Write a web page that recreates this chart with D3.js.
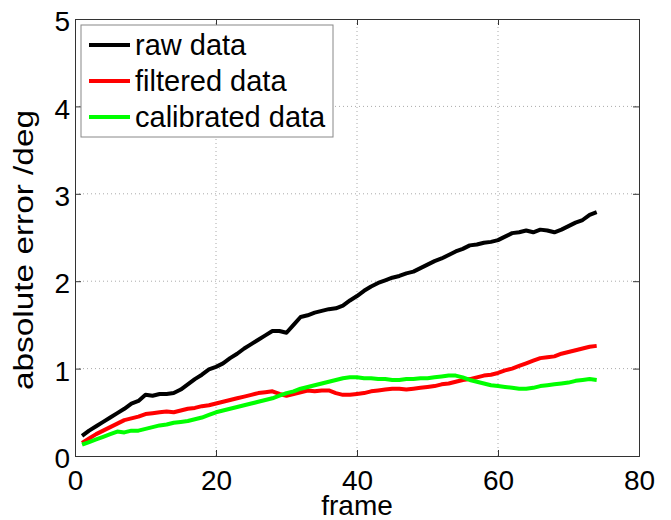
<!DOCTYPE html>
<html>
<head>
<meta charset="utf-8">
<script src="https://cdn.jsdelivr.net/npm/d3@7"></script>
<style>
  html, body { margin: 0; padding: 0; background: #fff; }
  svg { display: block; font-family: "Liberation Sans", Arial, sans-serif; }
</style>
</head>
<body>
<svg id="chart" width="671" height="520"></svg>
<script>
const rawData = [0.23,0.29,0.34,0.39,0.44,0.49,0.54,0.60,0.63,0.70,
  0.69,0.71,0.71,0.72,0.76,0.82,0.88,0.93,0.99,1.02,
  1.06,1.12,1.17,1.23,1.28,1.33,1.38,1.43,1.43,1.41,
  1.50,1.59,1.61,1.64,1.66,1.68,1.69,1.72,1.78,1.83,
  1.89,1.94,1.98,2.01,2.04,2.06,2.09,2.11,2.15,2.19,
  2.23,2.26,2.30,2.34,2.37,2.41,2.42,2.44,2.45,2.47,
  2.51,2.55,2.56,2.58,2.56,2.59,2.58,2.56,2.59,2.63,
  2.67,2.70,2.76,2.79];
const filteredData = [0.15,0.20,0.25,0.29,0.33,0.37,0.41,0.43,0.45,0.48,
  0.49,0.50,0.51,0.50,0.52,0.54,0.55,0.57,0.58,0.60,
  0.62,0.64,0.66,0.68,0.70,0.72,0.73,0.74,0.71,0.69,
  0.71,0.73,0.75,0.74,0.75,0.75,0.72,0.70,0.70,0.71,
  0.72,0.74,0.75,0.76,0.77,0.77,0.76,0.77,0.78,0.79,
  0.80,0.82,0.83,0.85,0.87,0.88,0.90,0.92,0.93,0.95,
  0.98,1.00,1.03,1.06,1.09,1.12,1.13,1.14,1.17,1.19,
  1.21,1.23,1.25,1.26];
const calibratedData = [0.13,0.16,0.19,0.22,0.25,0.28,0.27,0.29,0.29,0.31,
  0.33,0.35,0.36,0.38,0.39,0.40,0.42,0.44,0.47,0.50,
  0.52,0.54,0.56,0.58,0.60,0.62,0.64,0.66,0.69,0.72,
  0.74,0.77,0.79,0.81,0.83,0.85,0.87,0.89,0.90,0.90,
  0.89,0.89,0.88,0.88,0.87,0.87,0.88,0.88,0.89,0.89,
  0.90,0.91,0.92,0.92,0.90,0.87,0.85,0.83,0.81,0.80,
  0.79,0.78,0.77,0.77,0.78,0.80,0.81,0.82,0.83,0.84,
  0.86,0.87,0.88,0.87];
const xTicks = [0, 20, 40, 60, 80];
const yTicks = [0, 1, 2, 3, 4, 5];
const seriesNames = ["raw data", "filtered data", "calibrated data"];
const seriesColors = ["#000000", "#ff0000", "#00ff00"];
const xLabel = "frame";
const yLabel = "absolute error /deg";

const svg = d3.select("#chart");
const pL = 75, pR = 639, pT = 19, pB = 456;
const x = d3.scaleLinear().domain([0, 80]).range([pL, pR]);
const y = d3.scaleLinear().domain([0, 5]).range([pB, pT]);

// grid
const g = svg.append("g");
g.selectAll(".vgrid").data(xTicks.slice(1, -1)).enter().append("line")
  .attr("x1", d => x(d)).attr("x2", d => x(d))
  .attr("y1", pT).attr("y2", pB)
  .attr("stroke", "#aaa").attr("stroke-width", 1).attr("stroke-dasharray", "1,3");
g.selectAll(".hgrid").data(yTicks.slice(1, -1)).enter().append("line")
  .attr("x1", pL).attr("x2", pR)
  .attr("y1", d => y(d)).attr("y2", d => y(d))
  .attr("stroke", "#aaa").attr("stroke-width", 1).attr("stroke-dasharray", "1,3");

// axes (inner ticks, box)
const axB = d3.axisBottom(x).tickValues(xTicks).tickSize(-6).tickPadding(14).tickFormat(d3.format("d"));
const axL = d3.axisLeft(y).tickValues(yTicks).tickSize(-6).tickPadding(5).tickFormat(d3.format("d"));
const axT = d3.axisTop(x).tickValues(xTicks).tickSize(-6).tickFormat("");
const axR = d3.axisRight(y).tickValues(yTicks).tickSize(-6).tickFormat("");

const gb = svg.append("g").attr("transform", `translate(0,${pB})`).call(axB);
const gl = svg.append("g").attr("transform", `translate(${pL},0)`).call(axL);
svg.append("g").attr("transform", `translate(0,${pT})`).call(axT);
svg.append("g").attr("transform", `translate(${pR},0)`).call(axR);
svg.selectAll(".domain").attr("stroke", "#333");
svg.selectAll(".tick line").attr("stroke", "#333");
gb.selectAll("text").attr("font-size", 28).attr("fill", "#000")
  .attr("font-family", "Liberation Sans, Arial, sans-serif");
gl.selectAll("text").attr("font-size", 28).attr("fill", "#000").attr("dy", "0.42em")
  .attr("font-family", "Liberation Sans, Arial, sans-serif");

// lines
const seriesList = [rawData, filteredData, calibratedData];
const line = d3.line().x((d, i) => x(i + 1)).y(d => y(d));
seriesList.forEach((s, k) => {
  svg.append("path").datum(s)
    .attr("fill", "none").attr("stroke", seriesColors[k])
    .attr("stroke-width", 4).attr("stroke-linejoin", "round")
    .attr("d", line);
});

// labels
svg.append("text").attr("x", (pL + pR) / 2).attr("y", 515)
  .attr("text-anchor", "middle").attr("font-size", 28).text(xLabel);
svg.append("text").attr("transform", `translate(33,250) rotate(-90)`)
  .attr("text-anchor", "middle").attr("font-size", 27)
  .attr("textLength", 280).attr("lengthAdjust", "spacingAndGlyphs").text(yLabel);

// legend
const lg = svg.append("g");
lg.append("rect").attr("x", 81).attr("y", 25).attr("width", 252).attr("height", 112)
  .attr("fill", "#fff").attr("stroke", "#888").attr("stroke-width", 1);
seriesNames.forEach((n, k) => {
  const yy = 45 + k * 36;
  lg.append("line").attr("x1", 89).attr("x2", 130).attr("y1", yy).attr("y2", yy)
    .attr("stroke", seriesColors[k]).attr("stroke-width", 4);
  lg.append("text").attr("x", 135).attr("y", yy + 10).attr("font-size", 29).text(n);
});
</script>
</body>
</html>
